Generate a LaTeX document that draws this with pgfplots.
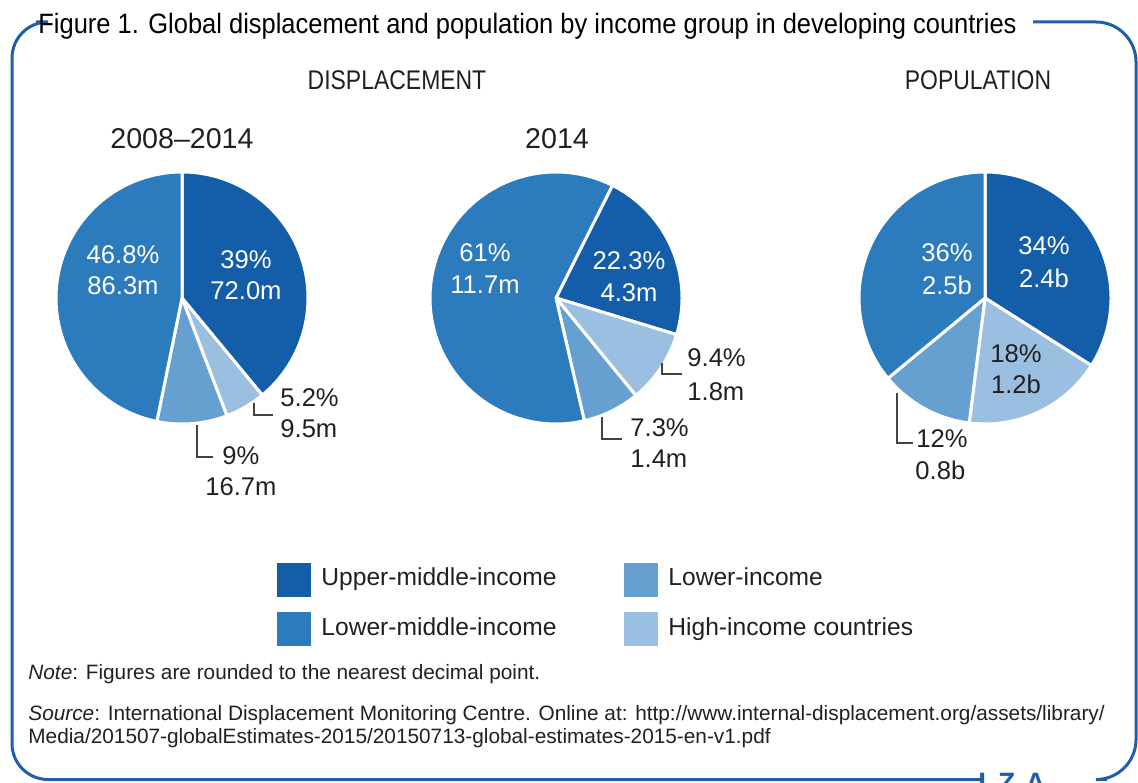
\documentclass[border=0pt]{standalone}
\usepackage{fontspec}
\setmainfont{Liberation Sans}
\newfontfamily\titlefont[FakeStretch=0.91]{Liberation Sans}
\newfontfamily\headfont[FakeStretch=0.85]{Liberation Sans}
\usepackage{pgfplots}
\usepackage{pgfplotstable}
\pgfplotsset{compat=1.18}

\definecolor{umic}{HTML}{135DA9}
\definecolor{lmic}{HTML}{2C7BBD}
\definecolor{lic}{HTML}{65A0D0}
\definecolor{hic}{HTML}{9BBFE0}
\definecolor{txt}{HTML}{231F20}
\definecolor{frameblue}{HTML}{1F5FA7}

% shares in percent, clockwise from the start angle
\pgfplotstableread{
group share
umic 39.0
hic 5.2
lic 9.0
lmic 46.8
}\pieA
\pgfplotstableread{
group share
umic 22.3
hic 9.4
lic 7.3
lmic 61.0
}\pieB
\pgfplotstableread{
group share
umic 34
hic 18
lic 12
lmic 36
}\pieC

% one wedge: table, row
\newcommand\slice[2]{%
  \pgfplotstablegetelem{#2}{share}\of#1\let\pieshare\pgfplotsretval
  \pgfplotstablegetelem{#2}{group}\of#1\let\piegroup\pgfplotsretval
  \pgfmathsetmacro\pieend{\pieang-3.6*\pieshare}%
  \edef\temp{\noexpand\addplot[fill=\piegroup, draw=white, line width=1.5pt,
    domain=\pieend:\pieang, samples=90] ({cos(x)},{sin(x)}) -- (axis cs:0,0) -- cycle;}%
  \temp
  \global\let\pieang\pieend}
\newcommand\drawpie[2]{%
  \xdef\pieang{#2}%
  \slice{#1}{0}\slice{#1}{1}\slice{#1}{2}\slice{#1}{3}}

\pgfplotsset{pie/.style={width=126pt, height=126pt, scale only axis, anchor=south west,
  xmin=-1, xmax=1, ymin=-1, ymax=1, hide axis}}

\begin{document}
\begin{tikzpicture}[x=0.5pt, y=0.5pt,
  lw/.style={font=\fontsize{12.8}{15}\selectfont, text=white, anchor=base, inner sep=0pt},
  ld/.style={font=\fontsize{12.8}{15}\selectfont, text=txt, anchor=base, inner sep=0pt},
  lo/.style={font=\fontsize{12.8}{15}\selectfont, text=txt, anchor=base west, inner sep=0pt},
  lead/.style={draw=txt!85, line width=0.8pt},
  leg/.style={font=\fontsize{12.3}{15}\selectfont, text=txt, anchor=base west, inner sep=0pt},
  note/.style={font=\fontsize{10.4}{13}\selectfont, text=txt, anchor=base west, inner sep=0pt}]
\useasboundingbox (0,0) rectangle (1138,782);
\coordinate (pA) at (56,358);
\coordinate (pB) at (430,358);
\coordinate (pC) at (859,358);

\begin{axis}[pie, at={(pA)}]
\drawpie{\pieA}{90}
\end{axis}
\begin{axis}[pie, at={(pB)}]
\drawpie{\pieB}{63.4}
\end{axis}
\begin{axis}[pie, at={(pC)}]
\drawpie{\pieC}{90}
\end{axis}

% frame
\draw[frameblue, line width=1.5pt, rounded corners=20] (1033,760) -- (1136,760) -- (1136,2.5) -- (1107,2.5);
\draw[frameblue, line width=1.5pt, rounded corners=18] (36,760) -- (12,760) -- (12,2.5) -- (983,2.5);
\node[anchor=base west, inner sep=0pt, text=black, font=\titlefont\fontsize{14}{16}\selectfont] at (38,748)
  {Figure 1. Global displacement and population by income group in developing countries};
\node[anchor=north, inner sep=0pt, text=frameblue, font=\bfseries\fontsize{14}{14}\selectfont] at (1012,9)
  {I\hspace{6pt}Z\hspace{5pt}A};

% headings
\node[anchor=base, inner sep=0pt, text=txt, font=\headfont\fontsize{13.5}{16}\selectfont] at (397,692) {DISPLACEMENT};
\node[anchor=base, inner sep=0pt, text=txt, font=\headfont\fontsize{13.5}{16}\selectfont] at (978,692) {POPULATION};
\node[anchor=base, inner sep=0pt, text=txt, font=\fontsize{14.3}{16}\selectfont] at (182,633) {2008--2014};
\node[anchor=base, inner sep=0pt, text=txt, font=\fontsize{14.3}{16}\selectfont] at (557,633) {2014};

% pie 1 labels
\node[lw] at (123,518) {46.8\%};
\node[lw] at (123,487) {86.3m};
\node[lw] at (246,513) {39\%};
\node[lw] at (246,482) {72.0m};
\draw[lead] (254,379) -- (254,367) -- (273,367);
\node[lo] at (280,375) {5.2\%};
\node[lo] at (280,344) {9.5m};
\draw[lead] (197,357) -- (197,325) -- (213,325);
\node[lo] at (222,318) {9\%};
\node[lo] at (205,287) {16.7m};

% pie 2 labels
\node[lw] at (485,520) {61\%};
\node[lw] at (485,488) {11.7m};
\node[lw] at (629,512) {22.3\%};
\node[lw] at (629,480) {4.3m};
\draw[lead] (662,419) -- (662,408) -- (682,408);
\node[lo] at (687,415) {9.4\%};
\node[lo] at (687,381) {1.8m};
\draw[lead] (602,365) -- (602,343) -- (622,343);
\node[lo] at (630,345) {7.3\%};
\node[lo] at (630,315) {1.4m};

% pie 3 labels
\node[lw] at (947,520) {36\%};
\node[lw] at (947,487) {2.5b};
\node[lw] at (1044,527) {34\%};
\node[lw] at (1044,494) {2.4b};
\node[ld] at (1016,419) {18\%};
\node[ld] at (1016,388) {1.2b};
\draw[lead] (897,389) -- (897,339) -- (913,339);
\node[lo] at (916,335) {12\%};
\node[lo] at (915,303) {0.8b};

% legend
\fill[umic] (277,185) rectangle (311,219);
\node[leg] at (321,197) {Upper-middle-income};
\fill[lmic] (277,136) rectangle (311,170);
\node[leg] at (321,147) {Lower-middle-income};
\fill[lic] (624,185) rectangle (658,219);
\node[leg] at (668,197) {Lower-income};
\fill[hic] (624,136) rectangle (658,170);
\node[leg] at (668,147) {High-income countries};

% notes
\node[note] at (28,103) {\textit{Note}: Figures are rounded to the nearest decimal point.};
\node[note] at (28,62) {\textit{Source}: International Displacement Monitoring Centre. Online at: http://www.internal-displacement.org/assets/library/};
\node[note] at (28,39) {Media/201507-globalEstimates-2015/20150713-global-estimates-2015-en-v1.pdf};
\end{tikzpicture}
\end{document}
